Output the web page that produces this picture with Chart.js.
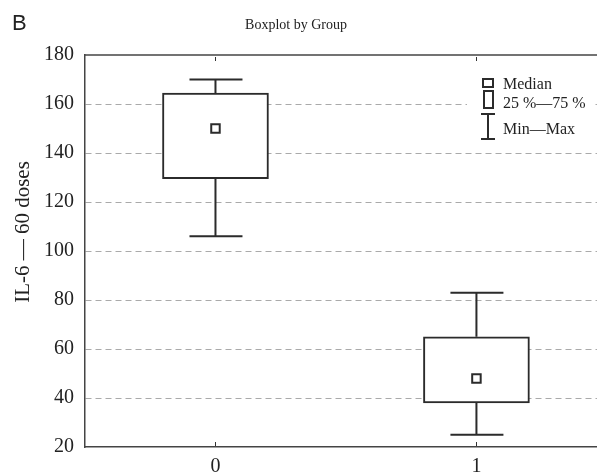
<!DOCTYPE html>
<html>
<head>
<meta charset="utf-8">
<script src="https://cdn.jsdelivr.net/npm/chart.js@4.4.0/dist/chart.umd.min.js"></script>
<style>
html,body{margin:0;padding:0;background:#fff;overflow:hidden}
#wrap{width:605px;height:474px}
</style>
</head>
<body>
<div id="wrap"><canvas id="boxChart"></canvas></div>
<script>
// data for the boxplot
const groups = [0, 1];
const mins = [106, 25];
const q1s = [129.5, 38];
const medians = [150, 48];
const q3s = [164.5, 65];
const maxs = [170, 83];
const yTicks = [20, 40, 60, 80, 100, 120, 140, 160, 180];
const chartTitle = 'Boxplot by Group';
const yTitle = 'IL-6 \u2014 60 doses';
const legendLabels = ['Median', '25 %\u201475 %', 'Min\u2014Max'];

const ink = '#2b2b2b';
const serif = "'Liberation Serif', 'Times New Roman', serif";
Chart.defaults.font.family = serif;
Chart.defaults.color = '#222';

// whiskers, drawn under the boxes
const whiskers = {
  id: 'whiskers',
  beforeDatasetsDraw(chart) {
    const {ctx, scales: {x, y}} = chart;
    ctx.save();
    ctx.strokeStyle = ink;
    ctx.lineWidth = 2;
    groups.forEach((g, i) => {
      const cx = x.getPixelForValue(g);
      const pairs = [[q3s[i], maxs[i]], [q1s[i], mins[i]]];
      pairs.forEach(([from, to]) => {
        ctx.beginPath();
        ctx.moveTo(cx, y.getPixelForValue(from));
        ctx.lineTo(cx, y.getPixelForValue(to));
        ctx.moveTo(cx - 26, y.getPixelForValue(to));
        ctx.lineTo(cx + 27, y.getPixelForValue(to));
        ctx.stroke();
      });
    });
    ctx.restore();
  }
};

// frame top line, small inner ticks, legend box, titles, panel letter
const decor = {
  id: 'decor',
  afterDatasetsDraw(chart) {
    const {ctx, chartArea: a, scales: {x}} = chart;
    ctx.save();
    ctx.strokeStyle = '#444';
    ctx.lineWidth = 1.5;
    ctx.beginPath();
    ctx.moveTo(a.left, a.top);
    ctx.lineTo(a.right, a.top);
    ctx.stroke();
    ctx.lineWidth = 1;
    ctx.strokeStyle = '#333';
    groups.forEach(g => {
      const px = Math.round(x.getPixelForValue(g)) + 0.5;
      ctx.beginPath();
      ctx.moveTo(px, a.top + 2);
      ctx.lineTo(px, a.top + 6);
      ctx.moveTo(px, a.bottom - 5);
      ctx.lineTo(px, a.bottom - 1);
      ctx.stroke();
    });

    // legend
    ctx.fillStyle = '#fff';
    ctx.fillRect(467, 67, 125, 81);
    ctx.strokeStyle = ink;
    ctx.lineWidth = 2;
    ctx.strokeRect(483, 79, 10, 8);
    ctx.strokeRect(484, 91, 9, 17);
    ctx.beginPath();
    ctx.moveTo(481, 114); ctx.lineTo(495, 114);
    ctx.moveTo(488, 114); ctx.lineTo(488, 139);
    ctx.moveTo(481, 139); ctx.lineTo(495, 139);
    ctx.stroke();
    ctx.fillStyle = '#222';
    ctx.font = '16px ' + serif;
    ctx.textBaseline = 'middle';
    ctx.textAlign = 'left';
    const ys = [85, 104, 130];
    legendLabels.forEach((t, i) => ctx.fillText(t, 503, ys[i]));

    // chart title
    ctx.textAlign = 'center';
    ctx.font = '14px ' + serif;
    ctx.fillText(chartTitle, 296, 25);

    // y axis title
    ctx.save();
    ctx.translate(23, 232);
    ctx.rotate(-Math.PI / 2);
    ctx.font = '21px ' + serif;
    ctx.fillText(yTitle, 0, 0);
    ctx.restore();

    ctx.textAlign = 'left';
    ctx.font = "22px 'Liberation Sans Narrow', 'Liberation Sans', sans-serif";
    ctx.fillText('B', 12, 24);
    ctx.restore();
  }
};

const data = {
  datasets: [
    {
      type: 'scatter',
      label: 'Median',
      data: groups.map((g, i) => ({x: g, y: medians[i]})),
      pointStyle: 'rect',
      pointRadius: 6,
      pointHoverRadius: 6,
      backgroundColor: '#fff',
      borderColor: ink,
      borderWidth: 2
    },
    {
      type: 'bar',
      label: '25%-75%',
      data: groups.map((g, i) => ({x: g, y: [q1s[i], q3s[i]]})),
      backgroundColor: '#fff',
      borderColor: ink,
      borderWidth: 2,
      borderSkipped: false,
      barThickness: 106
    }
  ]
};

const config = {
  type: 'bar',
  data: data,
  options: {
    responsive: true,
    maintainAspectRatio: false,
    animation: false,
    layout: {padding: {top: 55}},
    plugins: {
      legend: {display: false},
      tooltip: {enabled: false},
      title: {display: false}
    },
    scales: {
      x: {
        type: 'linear',
        offset: false,
        min: -0.5,
        max: 1.462,
        afterBuildTicks: s => { s.ticks = groups.map(v => ({value: v})); },
        afterFit: s => { s.height = 27; s.paddingLeft = 0; s.paddingRight = 0; },
        grid: {display: false},
        border: {display: true, color: '#444', width: 1.5},
        ticks: {font: {size: 20}, padding: 0, callback: v => String(v)}
      },
      y: {
        min: 20,
        max: 180,
        afterBuildTicks: s => { s.ticks = yTicks.map(v => ({value: v})); },
        afterFit: s => { s.width = 85; },
        grid: {
          drawTicks: false,
          color: c => (c.tick && (c.tick.value === 20 || c.tick.value === 180)) ? 'rgba(0,0,0,0)' : '#aaa',
          lineWidth: 1
        },
        border: {display: true, color: '#444', width: 1.5, dash: [6, 4]},
        ticks: {font: {size: 20}, padding: 11}
      }
    }
  },
  plugins: [whiskers, decor]
};

const boxChart = new Chart(document.getElementById('boxChart'), config);
</script>
</body>
</html>
